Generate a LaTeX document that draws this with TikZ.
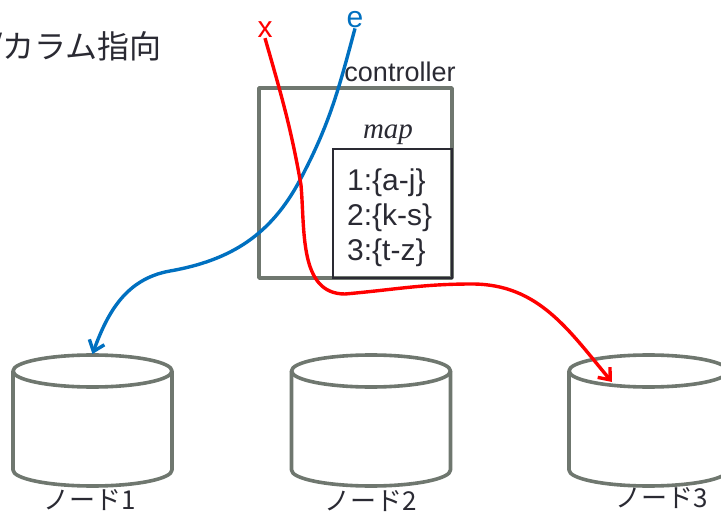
\documentclass[tikz,border=0pt]{standalone}
\usepackage{fontspec}
\setmainfont{Liberation Sans}
\newfontfamily\jpfont{Noto Sans CJK JP}
\newfontfamily\timesfont{Liberation Serif}
\usetikzlibrary{arrows.meta}
\definecolor{slate}{HTML}{6F776F}
\definecolor{ink}{HTML}{2A2A33}
\definecolor{keyred}{HTML}{FF0000}
\definecolor{keyblue}{HTML}{0070C0}

\begin{document}
\begin{tikzpicture}[x=1pt, y=1pt,
    frame/.style={draw=slate, line width=3.6pt, line join=round},
    maptable/.style={draw=ink, line width=1.3pt},
    query/.style={line width=3.4pt, -{Straight Barb[length=10pt, width=16pt]}},
    dbname/.style={font=\jpfont\fontsize{26}{30}\selectfont, text=ink},
    entry/.style={font=\fontsize{30}{34}\selectfont, text=ink, anchor=west, inner sep=0pt},
    keyname/.style={font=\fontsize{30}{34}\selectfont, inner sep=0pt},
]
\useasboundingbox (0,0) rectangle (721,515);

\node[font=\jpfont\fontsize{32}{38}\selectfont, text=ink, anchor=west, inner sep=0pt] (title) at (-10,467) {/カラム指向};

% controller with its map
\node[frame, minimum width=193, minimum height=190] (ctrl) at (355.5,332) {};
\node[font=\fontsize{27}{32}\selectfont, text=ink, inner sep=0pt] (ctrlname) at (400,443) {controller};
\node[maptable, minimum width=119, minimum height=129] (map) at (392.5,301.5) {};
\node[font=\timesfont\itshape\fontsize{29}{34}\selectfont, text=ink, inner sep=0pt] (mapname) at (388,380) {map};
\node[entry] (row1) at (347,332) {1:\{a-j\}};
\node[entry] (row2) at (347,297) {2:\{k-s\}};
\node[entry] (row3) at (347,262) {3:\{t-z\}};

% storage nodes
\foreach \cx/\nm in {92.5/1, 371/2, 648.5/3} {
    \draw[frame, fill=white] (\cx-79.5,144) -- (\cx-79.5,45)
        arc[start angle=180, end angle=360, x radius=79.5, y radius=16] -- (\cx+79.5,144);
    \draw[frame] (\cx,144) ellipse[x radius=79.5, y radius=16];
    \coordinate (dbtop\nm) at (\cx,161);
}
\node[dbname] (db1) at (90,15) {ノード1};
\node[dbname] (db2) at (371,14) {ノード2};
\node[dbname] (db3) at (662,17) {ノード3};
\coordinate (hit3) at (612,133);

% keys
\node[keyname, text=keyred] (xkey) at (265,485) {x};
\node[keyname, text=keyblue] (ekey) at (355,495) {e};

\draw[query, keyblue] (ekey.south) to[out=-105, in=62] (300,335)
    to[out=-118, in=10] (170,244) to[out=190, in=70] (dbtop1);
\draw[query, keyred] (xkey.south) to[out=-74, in=100] (301,330)
    to[out=-85, in=180] (345,221) to[out=5, in=180] (472,231)
    to[out=0, in=130] (hit3);

\end{tikzpicture}
\end{document}
